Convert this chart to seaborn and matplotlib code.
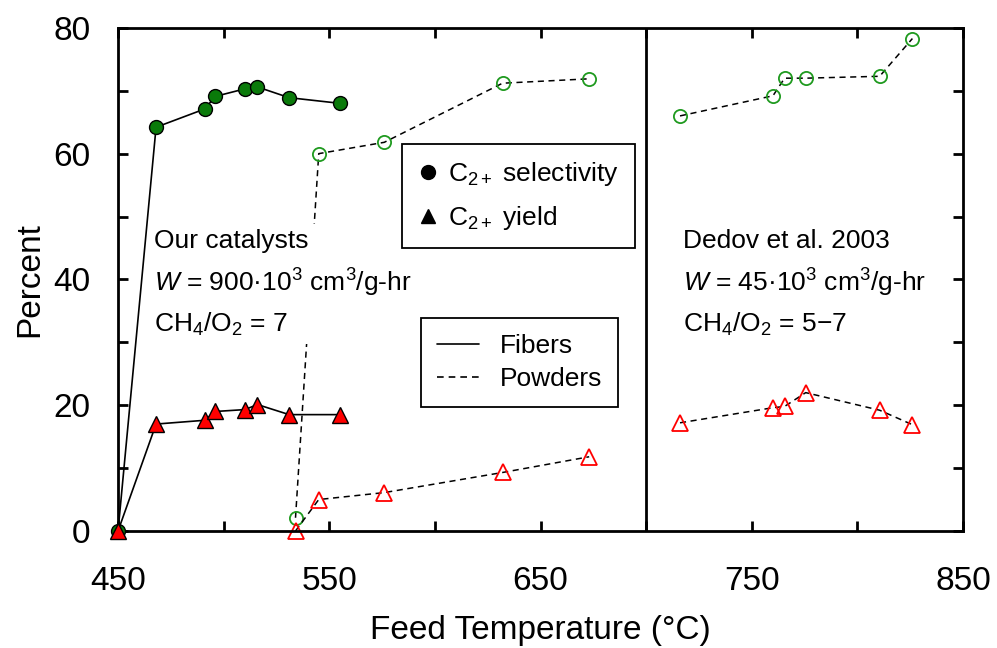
import matplotlib
matplotlib.use("Agg")
import matplotlib.pyplot as plt
import seaborn as sns
from matplotlib.lines import Line2D
from matplotlib.ticker import MultipleLocator

# Dati: fibre (linea continua), polveri (tratteggio), Dedov et al. 2003
fib_T = [450, 468, 491, 496, 510, 516, 531, 555]
fib_sel = [0, 64.2, 67.1, 69.1, 70.3, 70.6, 68.9, 68.0]
fib_yld = [0, 17.0, 17.6, 19.0, 19.3, 20.1, 18.5, 18.5]

pow_T = [534, 545, 576, 632, 673]
pow_sel = [2.1, 60.0, 61.8, 71.2, 71.9]
pow_yld = [0, 5.0, 6.1, 9.3, 11.8]

ded_T = [716, 760, 765.5, 775.5, 810.5, 826]
ded_sel = [66.0, 69.2, 72.0, 72.0, 72.3, 78.3]
ded_yld = [17.2, 19.6, 19.8, 22.0, 19.2, 16.9]

x_ticks = [450, 550, 650, 750, 850]
y_ticks = [0, 20, 40, 60, 80]

verde = "#0a7a0a"
verde_chiaro = "#1f9a1f"
rosso = "#ff0000"
tratteggio = (0, (4, 3))

sns.set_style("ticks")
plt.rcParams['font.family'] = ['Liberation Sans', 'DejaVu Sans']
plt.rcParams['mathtext.fontset'] = 'custom'
plt.rcParams['mathtext.rm'] = 'Liberation Sans'
plt.rcParams['mathtext.it'] = 'Liberation Sans:italic'
for k in ['text.color', 'axes.labelcolor', 'xtick.color', 'ytick.color', 'axes.edgecolor']:
    plt.rcParams[k] = 'black'

fig, ax = plt.subplots(figsize=(9.97, 6.48), dpi=100)
fig.subplots_adjust(left=0.1184, right=0.966, top=0.957, bottom=0.1806)

# Fibre: marker pieni, linea continua
sns.lineplot(x=fib_T, y=fib_sel, sort=False, estimator=None, ax=ax, color="black", linewidth=1.2,
             marker="o", markersize=10, markerfacecolor=verde, markeredgecolor="black",
             markeredgewidth=1, clip_on=False, zorder=4)
sns.lineplot(x=fib_T, y=fib_yld, sort=False, estimator=None, ax=ax, color="black", linewidth=1.2,
             marker="^", markersize=11, markerfacecolor=rosso, markeredgecolor="black",
             markeredgewidth=1, clip_on=False, zorder=4)

# Polveri e Dedov: marker vuoti, tratteggio
for T, sel, yld in [(pow_T, pow_sel, pow_yld), (ded_T, ded_sel, ded_yld)]:
    sns.lineplot(x=T, y=sel, sort=False, estimator=None, ax=ax, color="black", linewidth=1.1,
                 linestyle=tratteggio, marker="o", markersize=9.5, markerfacecolor="none",
                 markeredgecolor=verde_chiaro, markeredgewidth=1.3, clip_on=False, zorder=2)
    sns.lineplot(x=T, y=yld, sort=False, estimator=None, ax=ax, color="black", linewidth=1.1,
                 linestyle=tratteggio, marker="^", markersize=11, markerfacecolor="none",
                 markeredgecolor=rosso, markeredgewidth=1.3, clip_on=False, zorder=2)

ax.axvline(700, color="black", linewidth=2)

ax.set_xlim(450, 850)
ax.set_ylim(0, 80)
ax.xaxis.set_major_locator(MultipleLocator(50))
ax.yaxis.set_major_locator(MultipleLocator(10))
ax.set_xticklabels([str(int(t)) if int(t) in x_ticks else "" for t in ax.get_xticks()])
ax.set_yticklabels([str(int(t)) if int(t) in y_ticks else "" for t in ax.get_yticks()])
ax.set_xlim(450, 850)
ax.set_ylim(0, 80)
ax.tick_params(direction="in", length=7, width=2, top=True, right=True, labelsize=24, pad=20)
ax.tick_params(axis="x", pad=25)
for s in ax.spines.values():
    s.set_linewidth(2)
    s.set_visible(True)

ax.set_xlabel("Feed Temperature (°C)", fontsize=24, labelpad=13)
ax.set_ylabel("Percent", fontsize=24, labelpad=6)

box = dict(facecolor="white", edgecolor="none", boxstyle="square,pad=0.25")
ax.text(0.043, 0.6, "Our catalysts\n$W$ = 900·10$^3$ cm$^3$/g-hr\nCH$_4$/O$_2$ = 7",
        transform=ax.transAxes, fontsize=19, va="top", ha="left", linespacing=1.55,
        bbox=box, zorder=3)
ax.text(0.669, 0.6, "Dedov et al. 2003\n$W$ = 45·10$^3$ cm$^3$/g-hr\nCH$_4$/O$_2$ = 5−7",
        transform=ax.transAxes, fontsize=19, va="top", ha="left", linespacing=1.55,
        bbox=box, zorder=3)

h1 = [Line2D([], [], color="black", marker="o", linestyle="none", markersize=10),
      Line2D([], [], color="black", marker="^", linestyle="none", markersize=10)]
leg1 = ax.legend(h1, ["C$_{2+}$ selectivity", "C$_{2+}$ yield"], loc="upper left",
                 bbox_to_anchor=(0.336, 0.769), borderaxespad=0, fontsize=19, fancybox=False,
                 framealpha=1, edgecolor="black", handlelength=0.8, handletextpad=0.35,
                 labelspacing=0.6, borderpad=0.6)
leg1.get_frame().set_linewidth(1.3)
ax.add_artist(leg1)

h2 = [Line2D([], [], color="black", linewidth=1.2),
      Line2D([], [], color="black", linewidth=1.2, linestyle=tratteggio)]
leg2 = ax.legend(h2, ["Fibers", "Powders"], loc="upper left", bbox_to_anchor=(0.3586, 0.4235),
                 borderaxespad=0, fontsize=19, fancybox=False, framealpha=1, edgecolor="black",
                 handlelength=1.6, handletextpad=0.8, labelspacing=0.35, borderpad=0.6)
leg2.get_frame().set_linewidth(1.3)

plt.savefig("out.png", dpi=100)
